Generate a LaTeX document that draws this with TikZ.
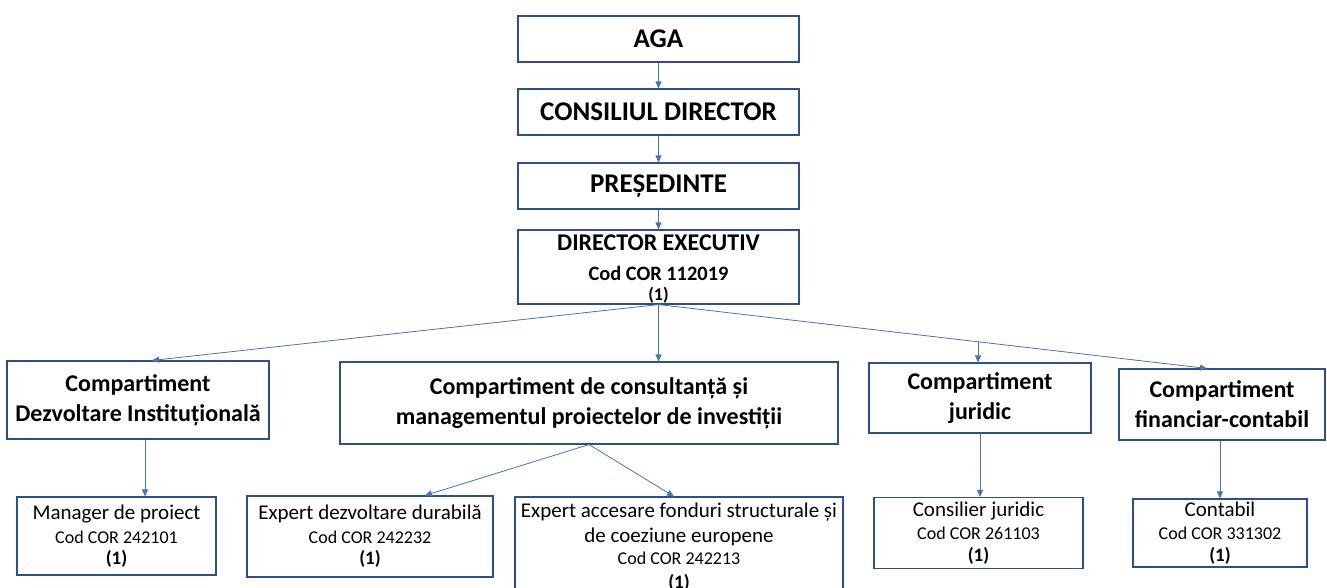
\documentclass[tikz,border=0pt]{standalone}
\usepackage{fontspec}
\setmainfont{Carlito}
\usetikzlibrary{arrows.meta,calc}
\definecolor{boxc}{HTML}{2E4F8F}
\definecolor{arrc}{HTML}{4A72B8}
\newcommand{\fsz}[2]{\fontsize{#1}{#2}\selectfont}
\begin{document}
\begin{tikzpicture}[x=1pt,y=-1pt,
  box/.style={draw=boxc,line width=1.1pt,inner sep=0pt,align=center,text=black},
  topbox/.style={box,font=\fsz{27}{30}\bfseries},
  deptbox/.style={box,font=\fsz{24}{30}\bfseries},
  jobbox/.style={box,font=\fsz{21}{24}},
  conn/.style={draw=arrc,line width=0.8pt,-{Triangle[length=7pt,width=6pt]}}]
\useasboundingbox (0,0) rectangle (1327,587);
\fill[white] (0,0) rectangle (1327,587);
% top chain
\node[topbox,minimum width=281pt,minimum height=46pt] (aga) at (658.5,39) {AGA};
\node[topbox,minimum width=281pt,minimum height=46pt] (cd) at (658.5,112) {CONSILIUL DIRECTOR};
\node[topbox,minimum width=281pt,minimum height=46pt] (pres) at (658.5,186) {PREȘEDINTE};
\node[box,font=\fsz{15}{30}\bfseries,minimum width=281pt,minimum height=74pt] (de) at (658.5,267)
  {\rule{0pt}{19.5pt}\fsz{24}{30}DIRECTOR EXECUTIV\\
   \fsz{20.4}{30}Cod COR 112019\\[-10pt]
   \fsz{18}{30}(1)};
% departments
\node[deptbox,minimum width=262pt,minimum height=78pt] (cdi) at (138,400) {Compartiment\\Dezvoltare Instituțională};
\node[deptbox,minimum width=498pt,minimum height=82pt] (cc) at (589,403) {Compartiment de consultanță și\\managementul proiectelor de investiții};
\node[deptbox,minimum width=222pt,minimum height=70pt] (cj) at (980,398) {Compartiment\\juridic};
\node[deptbox,minimum width=206pt,minimum height=71pt] (cf) at (1222,404.5) {Compartiment\\financiar-contabil};
% jobs
\node[jobbox,minimum width=199pt,minimum height=78pt] (mp) at (116.5,536)
  {Manager de proiect\\\fsz{18}{24}Cod COR 242101\\[-3pt]\fsz{19}{24}\bfseries (1)};
\node[jobbox,minimum width=246pt,minimum height=81pt] (ed) at (370,536.5)
  {Expert dezvoltare durabilă\\\fsz{18}{24}Cod COR 242232\\[-3pt]\fsz{19}{24}\bfseries (1)};
\node[jobbox,minimum width=328pt,minimum height=101pt] (ea) at (679,547.5)
  {Expert accesare fonduri structurale și\\[1pt]de coeziune europene\\[-2pt]\fsz{18}{24}Cod COR 242213\\\fsz{19}{24}\bfseries (1)};
\node[jobbox,minimum width=209pt,minimum height=71pt] (cons) at (978.5,533)
  {Consilier juridic\\[-1pt]\fsz{18}{24}Cod COR 261103\\[-2pt]\fsz{19}{24}\bfseries (1)};
\node[jobbox,minimum width=174pt,minimum height=68pt] (cont) at (1220,533)
  {Contabil\\[-1pt]\fsz{18}{24}Cod COR 331302\\[-2pt]\fsz{19}{24}\bfseries (1)};
% connectors
\draw[conn] (aga) -- (cd);
\draw[conn] (cd) -- (pres);
\draw[conn] (pres) -- (de);
\coordinate (cditip) at ($(cdi.north)+(14,0)$);
\coordinate (cftip) at ($(cf.north)+(-15,0)$);
\coordinate (jb) at ($(de.south)!0.5825!(cftip)$);
\draw[conn] (de.south) -- (cditip);
\draw[conn] (de.south) -- (de.south |- cc.north);
\draw[conn] (de.south) -- (cftip);
\draw[conn] (jb) -- (jb |- cj.north);
\coordinate (cdib) at ($(cdi.south)+(7,0)$);
\draw[conn] (cdib) -- (cdib |- mp.north);
\coordinate (edtip) at ($(ed.north)+(55,0)$);
\coordinate (eatip) at ($(ea.north)+(-5,0)$);
\draw[conn] (cc.south) -- (edtip);
\draw[conn] (cc.south) -- (eatip);
\draw[conn] (cj.south) -- (cj.south |- cons.north);
\draw[conn] (cont.north |- cf.south) -- (cont.north);
\end{tikzpicture}
\end{document}
